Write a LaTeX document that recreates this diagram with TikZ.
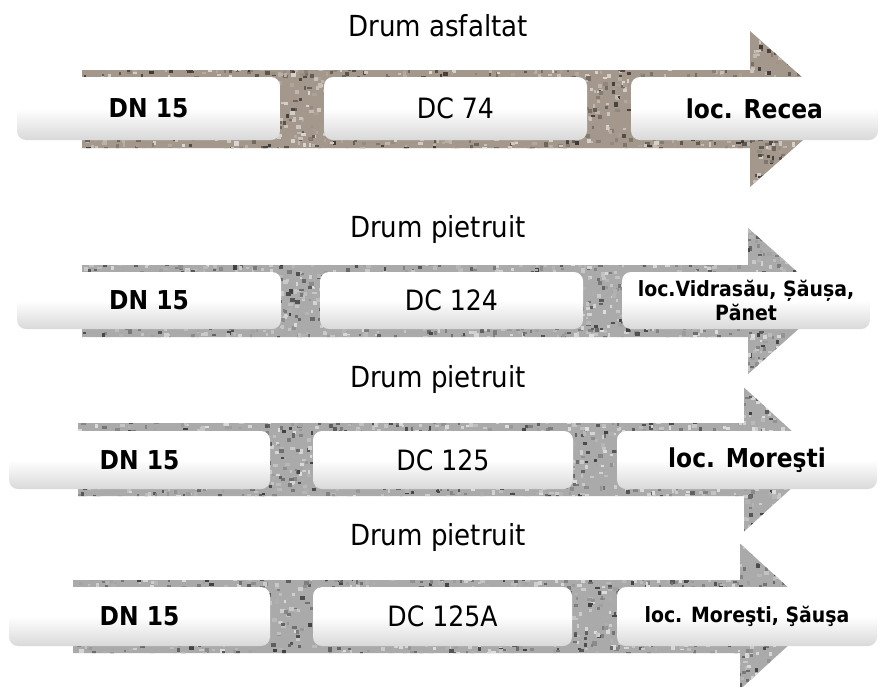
\documentclass[tikz,border=0pt]{standalone}
\usepackage{fontspec}
\setmainfont{DejaVu Sans Condensed}
\definecolor{asphalt}{RGB}{164,152,140}
\definecolor{stone}{RGB}{170,170,170}
% textured arrow: x start, x back of head, x tip, y top, y bottom, half head, colour
\newcommand{\gravelarrow}[7]{%
	\pgfmathsetmacro{\yc}{(#4+#5)/2}
	\begin{scope}
		\clip (#1,#4) -- (#2,#4) -- (#2,\yc-#6) -- (#3,\yc) -- (#2,\yc+#6) -- (#2,#5) -- (#1,#5) -- cycle;
		\fill [#7] (#1,\yc-#6) rectangle (#3,\yc+#6);
		\foreach \i in {1,...,2400} {
			\pgfmathsetmacro{\g}{int(68+30*rand)}
			\ifodd\i \def\mix{white}\else\def\mix{black}\fi
			\fill [#7!\g!\mix] ({#1+(#3-#1)*rnd},{\yc-#6+2*#6*rnd}) rectangle +({2+3*rnd},{2+2.5*rnd});
		}
	\end{scope}
}
\begin{document}
\begin{tikzpicture}[x=1pt,y=-1pt]
	\tikzstyle{plate} = [rounded corners=9, inner sep=0, text centered, top color=white, bottom color=gray!30, middle color=white]
	\tikzstyle{big} = [font=\bfseries\fontsize{26}{30}\selectfont]
	\tikzstyle{road} = [font=\fontsize{28}{30}\selectfont]
	\tikzstyle{small} = [font=\bfseries\fontsize{21}{24}\selectfont, align=center]
	\tikzstyle{title} = [font=\fontsize{29}{30}\selectfont]
	\useasboundingbox (0,0) rectangle (880,686);
	\clip (0,0) rectangle (880,686);
\gravelarrow{82}{750}{838}{70}{148}{78}{asphalt}
\gravelarrow{82}{748}{830}{265}{337}{73}{stone}
\gravelarrow{78}{744}{823}{423}{496}{72}{stone}
\gravelarrow{73}{740}{820}{580}{653}{73}{stone}
\node [plate, big, minimum width=263, minimum height=63] (dn1) at (148.5,108.5) {DN 15};
\node [plate, road, minimum width=263, minimum height=63] (dc1) at (455.5,108.5) {DC 74};
\node [plate, big, minimum width=247, minimum height=63] (loc1) at (754.5,108.5) {loc. Recea};
\node [plate, big, minimum width=264, minimum height=57] (dn2) at (149,300.5) {DN 15};
\node [plate, road, minimum width=263, minimum height=57] (dc2) at (451.5,300.5) {DC 124};
\node [plate, small, minimum width=248, minimum height=57] (loc2) at (746,300.5) {loc.Vidrasău, Șăușa,\\Pănet};
\node [plate, big, minimum width=261, minimum height=58] (dn3) at (139.5,460) {DN 15};
\node [plate, road, minimum width=260, minimum height=58] (dc3) at (443,460) {DC 125};
\node [plate, big, minimum width=260, minimum height=58] (loc3) at (747,460) {loc. Moreşti};
\node [plate, big, minimum width=261, minimum height=59] (dn4) at (139.5,616.5) {DN 15};
\node [plate, road, minimum width=259, minimum height=59] (dc4) at (442.5,616.5) {DC 125A};
\node [plate, small, minimum width=260, minimum height=59] (loc4) at (747,616.5) {loc. Moreşti, Şăuşa};

\node [title] (t1) at (438,26) {Drum asfaltat};
\node [title] (t2) at (438,229) {Drum pietruit};
\node [title] (t3) at (438,379) {Drum pietruit};
\node [title] (t4) at (438,537) {Drum pietruit};
\end{tikzpicture}
\end{document}
